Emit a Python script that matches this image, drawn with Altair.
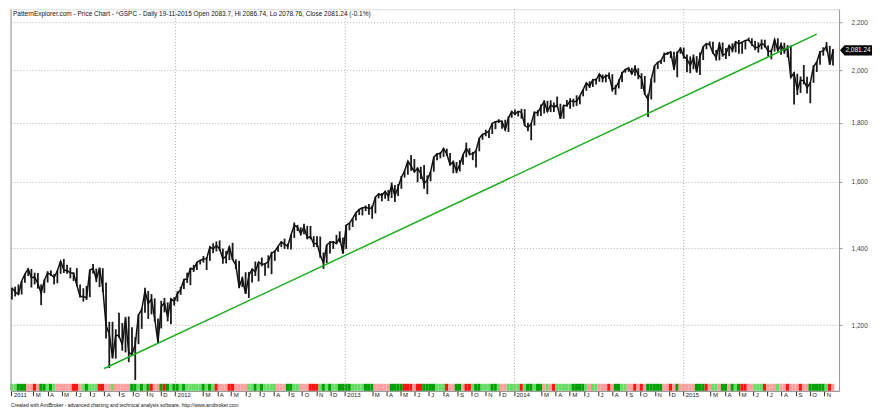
import altair as alt
import pandas as pd

# ---- weekly S&P 500 values (close / high / low) ----
close_2011 = [1293,1283,1276,1311,1329,1343,1320,1321,1304,1279,1313,1332,1328,1320,1338,1364,1340,1338,1333,1331,1300,1271,1271,1268,1340,1344,1316,1345,1292,1199,1179,1124,1177,1174,1154,1216,1136,1131,1155,1225,1238,1285,1253,1264,1216,1159,1244,1255,1219,1265,1258]
high_2011 = [1293,1296,1302,1311,1330,1344,1343,1333,1332,1302,1315,1337,1339,1329,1339,1364,1370,1354,1347,1334,1345,1302,1292,1298,1341,1356,1344,1347,1345,1307,1208,1208,1190,1230,1205,1220,1221,1195,1171,1226,1241,1293,1285,1277,1266,1216,1260,1267,1256,1266,1269]
low_2011 = [1263,1271,1275,1276,1306,1324,1294,1302,1291,1249,1280,1307,1324,1302,1305,1330,1332,1330,1318,1311,1297,1268,1258,1262,1269,1331,1308,1295,1282,1168,1101,1122,1122,1170,1140,1136,1114,1128,1075,1155,1191,1230,1215,1226,1209,1158,1192,1231,1209,1202,1248]

close_2012 = [1278,1289,1315,1316,1345,1342,1361,1366,1370,1371,1404,1397,1408,1398,1370,1378,1403,1369,1353,1295,1318,1278,1325,1343,1335,1362,1355,1357,1363,1386,1391,1405,1418,1411,1406,1438,1466,1460,1441,1461,1429,1433,1412,1414,1380,1359,1409,1416,1418,1413,1430,1385]
high_2012 = [1284,1296,1315,1333,1345,1354,1362,1368,1378,1375,1405,1414,1419,1422,1399,1392,1406,1415,1369,1365,1321,1334,1335,1343,1363,1362,1374,1357,1380,1390,1395,1406,1419,1427,1413,1438,1474,1467,1460,1470,1464,1464,1434,1434,1433,1388,1409,1420,1420,1438,1448,1430]
low_2012 = [1258,1275,1290,1306,1300,1335,1340,1355,1360,1340,1365,1386,1391,1392,1357,1358,1367,1367,1343,1292,1295,1277,1267,1307,1324,1310,1350,1325,1345,1329,1365,1390,1403,1398,1397,1396,1429,1449,1436,1440,1425,1425,1403,1403,1373,1343,1359,1385,1398,1411,1416,1385]

close_2013 = [1466,1472,1486,1503,1513,1518,1520,1516,1518,1551,1561,1556,1569,1553,1588,1555,1582,1614,1634,1667,1650,1631,1643,1626,1593,1606,1632,1680,1692,1692,1710,1691,1655,1664,1633,1655,1688,1710,1692,1690,1703,1745,1759,1762,1771,1798,1804,1806,1805,1775,1818,1841]
high_2013 = [1467,1472,1486,1503,1514,1518,1525,1530,1525,1552,1563,1564,1570,1573,1597,1589,1592,1618,1636,1667,1687,1674,1646,1648,1654,1620,1632,1680,1693,1698,1710,1709,1694,1669,1664,1670,1689,1730,1711,1698,1704,1745,1759,1775,1771,1798,1806,1813,1808,1811,1823,1844]
low_2013 = [1398,1451,1461,1480,1496,1495,1508,1497,1485,1501,1547,1538,1546,1539,1548,1536,1554,1577,1613,1622,1635,1630,1598,1608,1577,1560,1601,1632,1670,1676,1681,1684,1652,1627,1627,1633,1655,1680,1686,1670,1646,1700,1740,1752,1746,1760,1777,1799,1779,1772,1767,1818]

close_2014 = [1831,1842,1838,1790,1783,1797,1838,1836,1859,1878,1841,1866,1857,1865,1815,1864,1863,1881,1878,1878,1900,1924,1950,1936,1963,1961,1985,1967,1978,1978,1925,1931,1955,1988,2003,2008,1985,2010,1982,1968,1906,1886,1964,2018,2032,2039,2064,2068,2075,2002,2071,2089]
high_2014 = [1849,1843,1851,1850,1800,1798,1841,1846,1867,1883,1881,1883,1875,1897,1870,1865,1884,1891,1889,1902,1901,1924,1950,1956,1964,1968,1985,1983,1983,1991,1984,1942,1964,1994,2005,2012,2010,2020,2008,1988,1977,1908,1966,2018,2034,2041,2072,2075,2076,2075,2077,2094]
low_2014 = [1827,1823,1815,1790,1770,1738,1790,1824,1825,1834,1839,1839,1839,1856,1814,1815,1859,1851,1859,1862,1868,1898,1919,1930,1934,1944,1954,1952,1952,1965,1916,1904,1928,1953,1990,1994,1983,1978,1964,1926,1906,1821,1886,1951,2005,2025,2033,2062,2049,2002,1972,2067]

close_2015 = [2058,2045,2019,2051,1995,2055,2097,2110,2105,2071,2053,2108,2061,2067,2102,2081,2117,2108,2116,2123,2126,2107,2092,2094,2110,2102,2077,2077,2127,2080,2104,2078,2092,1971,1989,1921,1961,1958,1931,1951,2015,2033,2075,2079,2099,2023,2081]
high_2015 = [2093,2064,2056,2064,2057,2072,2097,2111,2119,2117,2083,2114,2114,2091,2102,2111,2120,2125,2117,2124,2135,2132,2121,2115,2127,2126,2102,2085,2128,2132,2114,2113,2103,2102,1992,1986,1975,2021,1974,1952,2020,2034,2079,2094,2116,2100,2087]
low_2015 = [2046,1992,1988,2004,1990,1981,2041,2086,2103,2067,2039,2040,2055,2045,2057,2073,2073,2067,2067,2085,2120,2100,2082,2072,2085,2093,2056,2044,2076,2079,2063,2067,2052,1971,1867,1903,1911,1944,1909,1872,1950,1993,2022,2059,2077,2022,2019]

# weekly colour strip: G dark green, g light green, r pink, R red
strip_chunks = [
    "ggGGGrrRrG", "GgGgrrrrrR", "RrgGgggRRr", "rgrrrrrGGg", "GgGRrrGRGg",
    "GGgGgggggG", "gGgRrrrRRr", "rrrggGgGgg", "ggrrrGGggr", "rrRRRgGgGg",
    "gGGGGggggG", "GGrrrrrGGG", "GRRRrRRGGG", "GgggRrrGGr", "RRgGGgggGG",
    "grrggggRgG", "GgGGrgrRgg", "gggGGGGgrg", "grrrRrGGgg", "rrRrRrGGGG",
    "GrrRrGrrrr", "rGGGRrggrG", "GrGgGRRrrg", "ggRrrrgrrR", "rrrRrrGGGG",
    "GgRr",
]
strip_codes = list("".join(strip_chunks))
strip_domain = ["G", "g", "r", "R"]
strip_colors = ["#00a000", "#66dd66", "#ff9f9f", "#ff1414"]

# trend line end points
trend_dates = ["2011-08-01", "2015-10-16"]
trend_values = [1100, 2150]

year_lines = ["2012-01-02", "2013-01-02", "2014-01-02", "2015-01-02"]
y_ticks = [1200, 1400, 1600, 1800, 2000, 2200]

title_text = ("PatternExplorer.com - Price Chart - ^GSPC - Daily 19-11-2015 Open 2083.7, "
              "Hi 2086.74, Lo 2078.76, Close 2081.24 (-0.1%)")
footer_text = ("Created with AmiBroker - advanced charting and technical analysis software. "
               "http://www.amibroker.com")
last_close = 2081.24
last_label = "2,081.24"

# ---- build tables ----
closes = close_2011 + close_2012 + close_2013 + close_2014 + close_2015
highs = high_2011 + high_2012 + high_2013 + high_2014 + high_2015
lows = low_2011 + low_2012 + low_2013 + low_2014 + low_2015
dates = pd.date_range("2011-01-14", periods=len(closes), freq="7D")

df = pd.DataFrame({"date": dates, "close": closes, "hi": highs, "lo": lows})
strip = pd.DataFrame({
    "x0": dates - pd.Timedelta(days=4),
    "x1": dates + pd.Timedelta(days=3),
    "c": strip_codes[: len(dates)],
})
trend = pd.DataFrame({"date": pd.to_datetime(trend_dates), "v": trend_values})
years = pd.DataFrame({"date": pd.to_datetime(year_lines)})

W, H = 829, 382
FONT = "Liberation Sans"

# month ticks: January shows the year, February is skipped (as in the original)
tick_vals = [alt.DateTime(year=2011, month=1, date=13)]
for yr in range(2011, 2016):
    for m in range(1, 13):
        if m == 2 or (yr == 2011 and m == 1):
            continue
        if yr == 2015 and m > 11:
            continue
        tick_vals.append(alt.DateTime(year=yr, month=m, date=1))

x_scale = alt.Scale(domain=[alt.DateTime(year=2011, month=1, date=12),
                            alt.DateTime(year=2015, month=12, date=3)])
x_axis = alt.Axis(
    values=tick_vals,
    labelExpr="month(datum.value) == 0 ? timeFormat(datum.value, '%Y') : substring(timeFormat(datum.value, '%b'), 0, 1)",
    labelAlign="left", labelBaseline="top", labelPadding=-4, labelOffset=2,
    tickSize=5, tickColor="#333", domainColor="#888", grid=False,
    labelFontSize=6, labelColor="#222", labelFont=FONT, labelOverlap=False,
    labelFlush=False, title=None,
)
y_scale = alt.Scale(type="log", domain=[1052, 2260], nice=False)
y_axis = alt.Axis(
    orient="right", values=y_ticks, format=",", labelFontSize=6.5,
    labelColor="#444", labelFont=FONT, labelPadding=9, tickSize=3,
    tickColor="#999", domainColor="#999", grid=True, gridColor="#b4b4b4",
    gridDash=[1, 2], title=None,
)

strip_layer = alt.Chart(strip).mark_rect().encode(
    x=alt.X("x0:T", scale=x_scale, axis=x_axis),
    x2="x1:T",
    y=alt.value(H - 7), y2=alt.value(H),
    color=alt.Color("c:N", scale=alt.Scale(domain=strip_domain, range=strip_colors), legend=None),
)

year_layer = alt.Chart(years).mark_rule(color="#ababab", strokeDash=[1, 2], strokeWidth=1).encode(
    x=alt.X("date:T", scale=x_scale, axis=x_axis),
)

left_border = alt.Chart(pd.DataFrame({"a": [0]})).mark_rule(color="#a0a0a0").encode(
    x=alt.value(0), y=alt.value(0), y2=alt.value(H),
)

range_layer = alt.Chart(df).mark_rule(color="#1a1a1a", strokeWidth=1.8).encode(
    x=alt.X("date:T", scale=x_scale, axis=x_axis),
    y=alt.Y("lo:Q", scale=y_scale, axis=y_axis),
    y2="hi:Q",
)

close_layer = alt.Chart(df).mark_line(color="#111", strokeWidth=1.5).encode(
    x=alt.X("date:T", scale=x_scale, axis=x_axis),
    y=alt.Y("close:Q", scale=y_scale, axis=y_axis),
)

trend_layer = alt.Chart(trend).mark_line(color="#1cae1c", strokeWidth=1.5).encode(
    x=alt.X("date:T", scale=x_scale, axis=x_axis),
    y=alt.Y("v:Q", scale=y_scale, axis=y_axis),
)

title_layer = alt.Chart(pd.DataFrame({"t": [title_text]})).mark_text(
    align="left", baseline="middle", fontSize=6.5, font=FONT, color="#111",
).encode(x=alt.value(2), y=alt.value(5), text="t:N")

box_path = "M -1 0 L -0.72 -0.32 L 1 -0.32 L 1 0.32 L -0.72 0.32 Z"
last_df = pd.DataFrame({"v": [last_close], "lab": [last_label]})
box_layer = alt.Chart(last_df).mark_point(
    shape=box_path, size=1024, filled=True, color="#000", opacity=1,
).encode(y=alt.Y("v:Q", scale=y_scale, axis=y_axis), x=alt.value(W + 17))
box_text = alt.Chart(last_df).mark_text(
    color="#fff", fontSize=6.5, font=FONT, align="center", baseline="middle",
).encode(y=alt.Y("v:Q", scale=y_scale, axis=y_axis), x=alt.value(W + 19), text="lab:N")

footer_layer = alt.Chart(pd.DataFrame({"t": [footer_text]})).mark_text(
    align="left", baseline="middle", fontSize=5, font=FONT, color="#111",
).encode(x=alt.value(0), y=alt.value(H + 14), text="t:N")

chart = alt.layer(
    strip_layer, year_layer, left_border, range_layer, close_layer, trend_layer,
    title_layer, box_layer, box_text, footer_layer,
).properties(
    width=W, height=H, padding={"left": 0, "right": 0, "top": 0, "bottom": 0},
).configure_view(fill="#e9e9e9", stroke=None).configure(font=FONT)

chart.save("out.html", embed_options={"renderer": "svg", "actions": False})
